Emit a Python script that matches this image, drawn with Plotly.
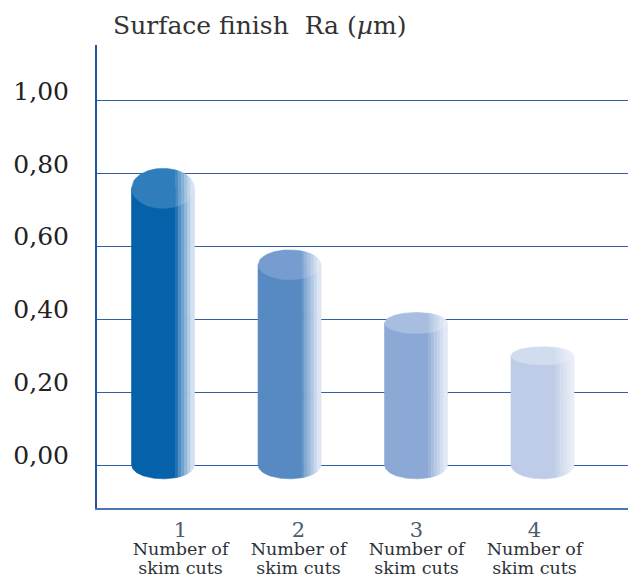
import numpy as np
import plotly.graph_objects as go

# ---- data ----
categories = ["1", "2", "3", "4"]
category_caption = ["Number of", "skim cuts"]
ra_values = [0.76, 0.55, 0.39, 0.30]
tick_values = [0.0, 0.2, 0.4, 0.6, 0.8, 1.0]
tick_labels = ["0,00", "0,20", "0,40", "0,60", "0,80", "1,00"]
title_text = "Surface finish\u00a0 Ra (<i>\u00b5</i>m)"

# ---- styling ----
body_colors = ["#0561a9", "#578ac3", "#8ca9d5", "#becce7"]
top_colors = ["#2f7dbb", "#769dcf", "#a8bee0", "#d2dcef"]
top_rim = [0.055, 0.041, 0.029, 0.025]   # half height of the top ellipse (y units)
base_rim = 0.038                          # half height of the bottom ellipse
half_width = 0.249                        # cylinder half width (x units)
shade_edges = [0.0, 0.70, 0.74, 0.79, 0.84, 0.89, 0.94, 1.0]
shade_mix = [0.0, 0.12, 0.30, 0.45, 0.60, 0.75, 0.88]
highlight = (238, 241, 249)

FONT = "DejaVu Serif"
GRID = "#2f5da6"
Y_RANGE = [-0.1181, 1.1538]
LABEL_LIFT = 0.0275


def mix(hex_color, t):
    h = hex_color.lstrip("#")
    rgb = [int(h[i:i + 2], 16) for i in (0, 2, 4)]
    out = [round(c + (w - c) * t) for c, w in zip(rgb, highlight)]
    return "rgb({},{},{})".format(*out)


def arc(c, w, x0, x1, yc, a, sign, n=40):
    xs = np.linspace(x0, x1, n)
    ys = yc + sign * a * np.sqrt(np.clip(1 - ((xs - c) / w) ** 2, 0, None))
    return xs, ys


fig = go.Figure()

for i, v in enumerate(ra_values):
    c = i + 1
    w = half_width
    for k in range(len(shade_mix)):
        xa = c - w + 2 * w * shade_edges[k]
        xb = c - w + 2 * w * shade_edges[k + 1]
        # cylinder wall strip
        bx, by = arc(c, w, xb, xa, 0.0, base_rim, -1)
        xs = np.concatenate([[xa, xb], bx, [xa]])
        ys = np.concatenate([[v, v], by, [v]])
        col = mix(body_colors[i], shade_mix[k])
        fig.add_trace(go.Scatter(x=xs, y=ys, fill="toself", fillcolor=col, mode="lines",
                                 line=dict(color=col, width=0.6), hoverinfo="skip",
                                 showlegend=False))
        # top face strip
        ux, uy = arc(c, w, xa, xb, v, top_rim[i], 1)
        lx, ly = arc(c, w, xb, xa, v, top_rim[i], -1)
        xs = np.concatenate([ux, lx, ux[:1]])
        ys = np.concatenate([uy, ly, uy[:1]])
        col = mix(top_colors[i], shade_mix[k])
        fig.add_trace(go.Scatter(x=xs, y=ys, fill="toself", fillcolor=col, mode="lines",
                                 line=dict(color=col, width=0.6), hoverinfo="skip",
                                 showlegend=False))

# carrier for the category label axis
fig.add_trace(go.Scatter(x=[1, 2, 3, 4], y=ra_values, xaxis="x2", yaxis="y2", mode="markers",
                         marker=dict(opacity=0), hoverinfo="skip", showlegend=False))

cat_text = [
    f"<span style='font-size:21px;color:#4d5d6c'>{n}</span><br>"
    f"<span style='font-size:17.5px'>{category_caption[0]}</span><br>"
    f"<span style='font-size:17.5px'>{category_caption[1]}</span>"
    for n in categories
]

fig.update_layout(
    width=630, height=575,
    margin=dict(l=97, r=2, t=45, b=67, autoexpand=False),
    paper_bgcolor="white", plot_bgcolor="white",
    title=dict(text=title_text, x=113 / 630, xanchor="left", xref="container",
               y=1 - 25 / 575, yanchor="middle", yref="container",
               font=dict(family=FONT, size=25, color="#333333")),
    xaxis=dict(range=[0.478, 4.676], showline=True, linecolor="#4b77b5", linewidth=1.5,
               showticklabels=False, ticks="", showgrid=False, zeroline=False, fixedrange=True),
    xaxis2=dict(range=[0.292, 4.792], overlaying="x", anchor="y", side="bottom",
                tickvals=[1, 2, 3, 4], ticktext=cat_text, ticks="", showgrid=False,
                zeroline=False, showline=False, ticklabelstandoff=13,
                tickfont=dict(family=FONT, size=14.5, color="#2c3238"), fixedrange=True),
    yaxis=dict(range=Y_RANGE, tickvals=tick_values, showticklabels=False, ticks="",
               showgrid=True, gridcolor=GRID, gridwidth=1.2, zeroline=False,
               showline=True, linecolor="#23529e", linewidth=1.5, fixedrange=True),
    yaxis2=dict(range=[Y_RANGE[0] - LABEL_LIFT, Y_RANGE[1] - LABEL_LIFT], overlaying="y",
                side="left", anchor="x", tickvals=tick_values, ticktext=tick_labels,
                ticks="", showgrid=False, zeroline=False, showline=False,
                ticklabelstandoff=27,
                tickfont=dict(family=FONT, size=25, color="#222222"), fixedrange=True),
)

fig.write_html("out.html")
